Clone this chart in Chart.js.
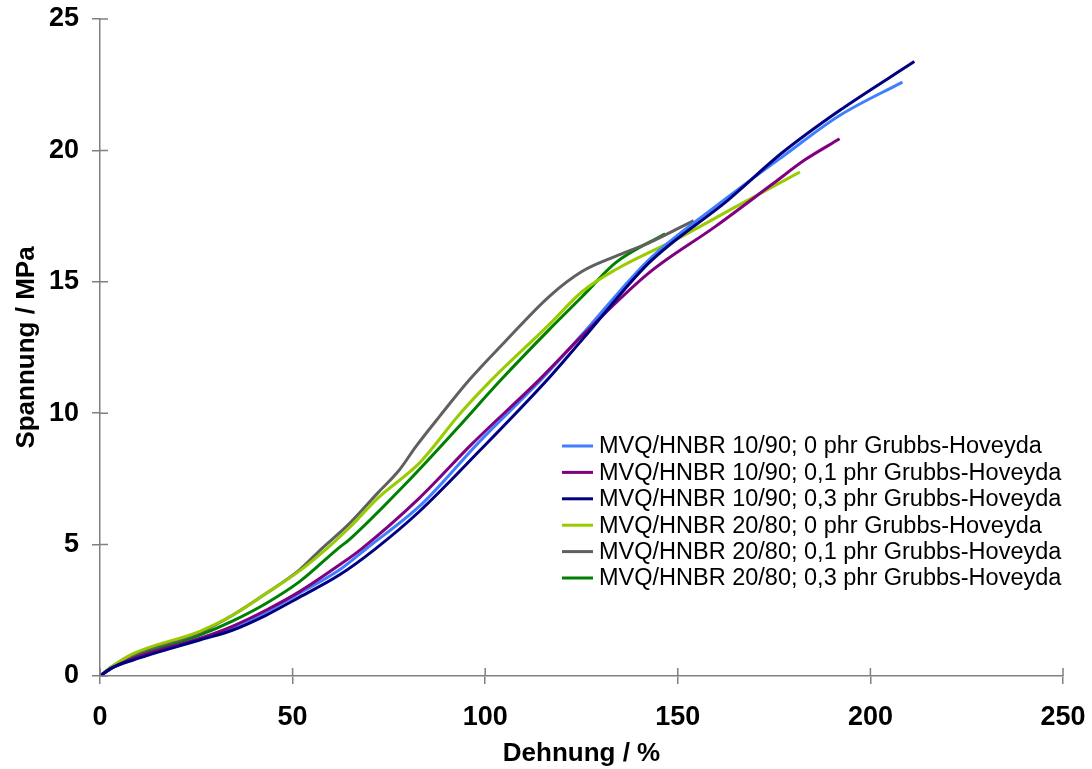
<!DOCTYPE html>
<html>
<head>
<meta charset="utf-8">
<script src="https://cdn.jsdelivr.net/npm/chart.js@4.4.1/dist/chart.umd.min.js"></script>
<style>
  html, body { margin: 0; padding: 0; background: #fff; }
  #wrap { width: 1092px; height: 769px; }
</style>
</head>
<body>
<div id="wrap"><canvas id="mycanvas" width="1092" height="769"></canvas></div>
<script>
// Zugversuch: Dehnung (%) / Spannung (MPa)
var labels = [
  'MVQ/HNBR 10/90; 0 phr Grubbs-Hoveyda',
  'MVQ/HNBR 10/90; 0,1 phr Grubbs-Hoveyda',
  'MVQ/HNBR 10/90; 0,3 phr Grubbs-Hoveyda',
  'MVQ/HNBR 20/80; 0 phr Grubbs-Hoveyda',
  'MVQ/HNBR 20/80; 0,1 phr Grubbs-Hoveyda',
  'MVQ/HNBR 20/80; 0,3 phr Grubbs-Hoveyda'
];
var colors = ['#3f7fff', '#800080', '#000080', '#99cc00', '#606060', '#008000'];

var strain_10_0  = [0, 3, 8.6, 25.9, 34.5, 43.2, 51.8, 62.2, 69.1, 83.8, 98.4, 115, 125.2, 142.5, 159.8, 177.9, 191.7, 208.3];
var stress_10_0  = [0, 0.3, 0.65, 1.42, 1.85, 2.45, 3.15, 4.04, 4.84, 6.58, 8.9, 11.35, 13.0, 15.84, 17.87, 19.84, 21.3, 22.6];

var strain_10_01 = [0, 3, 8.6, 25.9, 34.5, 43.2, 51.8, 62.2, 67.9, 82.9, 96.7, 114, 125.2, 142.5, 159.8, 174.4, 183.1, 192];
var stress_10_01 = [0, 0.3, 0.67, 1.43, 1.9, 2.51, 3.21, 4.23, 4.84, 6.77, 8.85, 11.27, 12.95, 15.34, 17.11, 18.7, 19.65, 20.44];

var strain_10_03 = [0, 3, 8.6, 25.9, 34.5, 43.2, 51.8, 62.2, 71.5, 82.9, 98.4, 116.6, 125.2, 142.5, 163.2, 177, 191.7, 211.4];
var stress_10_03 = [0, 0.3, 0.61, 1.37, 1.75, 2.32, 3.0, 3.85, 4.84, 6.26, 8.55, 11.35, 12.8, 15.72, 18.13, 19.9, 21.49, 23.38];

var strain_20_0  = [0, 3, 8.6, 25.9, 34.5, 43.2, 51.8, 58.8, 64.8, 72, 82.9, 87, 92.4, 101.2, 116.6, 125.2, 133.8, 151.1, 165, 181.7];
var stress_20_0  = [0, 0.35, 0.85, 1.7, 2.32, 3.15, 4.0, 4.84, 5.65, 6.75, 8.1, 8.8, 9.8, 11.2, 13.37, 14.63, 15.46, 16.73, 17.85, 19.18];

var strain_20_01 = [0, 3, 8.6, 25.9, 34.5, 43.2, 51.8, 57.5, 64.8, 72, 77.7, 82, 88.1, 95.9, 105, 116.6, 125.2, 133.8, 142.5, 154.1];
var stress_20_01 = [0, 0.35, 0.8, 1.65, 2.32, 3.15, 4.04, 4.84, 5.81, 6.95, 7.84, 8.73, 9.87, 11.27, 12.7, 14.44, 15.4, 15.97, 16.48, 17.33];

var strain_20_03 = [0, 3, 8.6, 25.9, 34.5, 43.2, 51.8, 61.7, 64.8, 80.3, 92.4, 104.1, 116.6, 125.2, 133.8, 146.7];
var stress_20_03 = [0, 0.3, 0.72, 1.56, 2.1, 2.77, 3.59, 4.84, 5.2, 7.46, 9.37, 11.27, 13.18, 14.44, 15.72, 16.83];

var xTicks = [0, 50, 100, 150, 200, 250];
var yTicks = [0, 5, 10, 15, 20, 25];

function pts(xs, ys) {
  var out = [];
  for (var i in xs) out.push({x: xs[i], y: ys[i]});
  return out;
}

var series = [
  pts(strain_10_0, stress_10_0),
  pts(strain_10_01, stress_10_01),
  pts(strain_10_03, stress_10_03),
  pts(strain_20_0, stress_20_0),
  pts(strain_20_01, stress_20_01),
  pts(strain_20_03, stress_20_03)
];

var datasets = [];
for (var i in series) {
  datasets.push({
    label: labels[i],
    data: series[i],
    borderColor: colors[i],
    backgroundColor: colors[i],
    borderWidth: 3,
    pointRadius: 0,
    fill: false,
    cubicInterpolationMode: 'monotone'
  });
}
// draw order like the original (light blue on top of navy)
datasets = [datasets[2], datasets[1], datasets[0], datasets[3], datasets[4], datasets[5]];

var axisColor = '#808080';
var fam = '"Liberation Sans", Arial, sans-serif';

// inward half of the crossing tick marks + legend box inside the plot
var extras = {
  id: 'extras',
  afterDraw: function(chart) {
    var ctx = chart.ctx, a = chart.chartArea;
    var sx = chart.scales.x, sy = chart.scales.y;
    ctx.save();
    ctx.strokeStyle = axisColor;
    ctx.lineWidth = 1.5;
    ctx.beginPath();
    xTicks.forEach(function(v) {
      var p = sx.getPixelForValue(v);
      ctx.moveTo(p, a.bottom); ctx.lineTo(p, a.bottom - 8);
    });
    yTicks.forEach(function(v) {
      var p = sy.getPixelForValue(v);
      ctx.moveTo(a.left, p); ctx.lineTo(a.left + 8, p);
    });
    ctx.stroke();

    // legend
    var lx = a.left + 462, ly = a.top + 427, step = 26.4;
    ctx.font = '23.5px ' + fam;
    ctx.textBaseline = 'middle';
    ctx.fillStyle = '#000';
    for (var k = 0; k < labels.length; k++) {
      var yy = ly + k * step;
      ctx.strokeStyle = colors[k];
      ctx.lineWidth = 3;
      ctx.beginPath();
      ctx.moveTo(lx, yy); ctx.lineTo(lx + 31, yy);
      ctx.stroke();
      ctx.fillText(labels[k], lx + 37, yy + 1);
    }
    ctx.restore();
  }
};

var ctx = document.getElementById('mycanvas');
var chart = new Chart(ctx, {
  type: 'line',
  data: { datasets: datasets },
  options: {
    responsive: false,
    animation: false,
    layout: { padding: { top: 19, right: 29, left: 0, bottom: 0 } },
    plugins: { legend: { display: false }, tooltip: { enabled: false } },
    scales: {
      x: {
        type: 'linear',
        min: 0, max: 250,
        afterBuildTicks: function(s) { s.ticks = xTicks.map(function(v) { return {value: v}; }); },
        afterFit: function(s) { s.height = 93; s.paddingLeft = 0; s.paddingRight = 0; },
        border: { color: axisColor, width: 1.5 },
        grid: { drawOnChartArea: false, drawTicks: true, tickLength: 8, color: axisColor, lineWidth: 1.5 },
        ticks: { color: '#000', padding: 17, maxRotation: 0,
                 font: { family: fam, size: 27, weight: 'bold' } },
        title: { display: true, text: 'Dehnung / %', color: '#000', padding: { top: 2, bottom: 0 },
                 font: { family: fam, size: 26, weight: 'bold' } }
      },
      y: {
        type: 'linear',
        min: 0, max: 25,
        afterBuildTicks: function(s) { s.ticks = yTicks.map(function(v) { return {value: v}; }); },
        afterFit: function(s) { s.width = 100; s.paddingTop = 0; s.paddingBottom = 0; },
        border: { color: axisColor, width: 1.5 },
        grid: { drawOnChartArea: false, drawTicks: true, tickLength: 8, color: axisColor, lineWidth: 1.5 },
        ticks: { color: '#000', padding: 13,
                 font: { family: fam, size: 27, weight: 'bold' } },
        title: { display: true, text: 'Spannung / MPa', color: '#000', padding: { top: 11, bottom: 0 },
                 font: { family: fam, size: 26, weight: 'bold' } }
      }
    }
  },
  plugins: [extras]
});
</script>
</body>
</html>
